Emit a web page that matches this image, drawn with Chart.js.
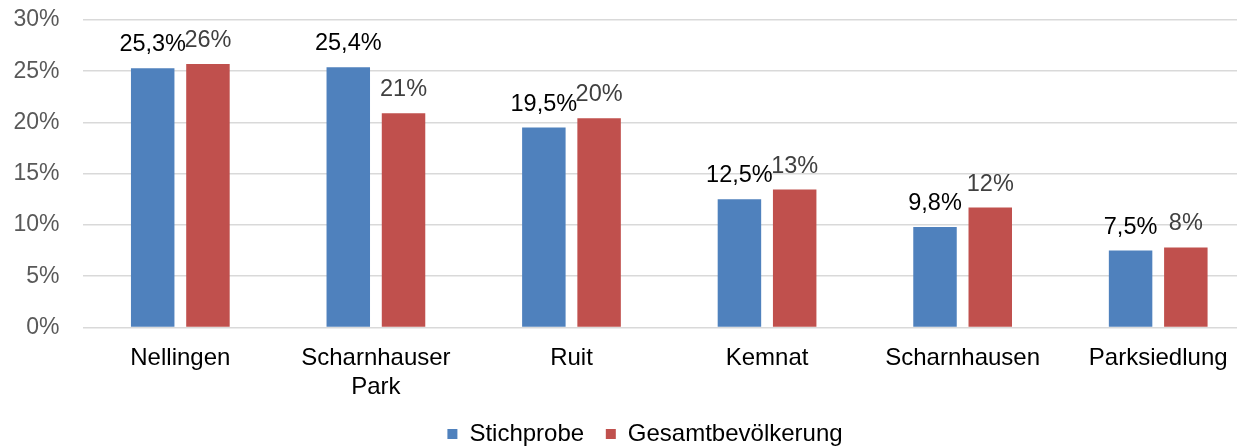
<!DOCTYPE html>
<html>
<head>
<meta charset="utf-8">
<script src="https://cdn.jsdelivr.net/npm/chart.js@4.4.1/dist/chart.umd.min.js"></script>
<style>
    html, body { margin: 0; padding: 0; background: #fff; overflow: hidden; }
    #wrap { position: absolute; left: 0; top: 0; width: 1290px; height: 447px; }
</style>
</head>
<body>
<div id="wrap"><canvas id="chart"></canvas></div>
<script>
// Data
const categories = ['Nellingen', ['Scharnhauser', 'Park'], 'Ruit', 'Kemnat', 'Scharnhausen', 'Parksiedlung'];
const stichprobe = [25.3, 25.4, 19.5, 12.5, 9.8, 7.5];
const gesamt = [25.7, 20.9, 20.4, 13.45, 11.7, 7.8];
const seriesNames = ['Stichprobe', 'Gesamtbevölkerung'];
const yTicks = [0, 5, 10, 15, 20, 25, 30];

const FONT = '"Liberation Sans", Arial, sans-serif';

// Helper: value labels above each bar
const valueLabels = {
    id: 'valueLabels',
    afterDatasetsDraw(chart) {
        const ctx = chart.ctx;
        ctx.save();
        ctx.font = '23.5px ' + FONT;
        ctx.textAlign = 'center';
        ctx.textBaseline = 'alphabetic';
        chart.data.datasets.forEach((ds, i) => {
            const meta = chart.getDatasetMeta(i);
            ctx.fillStyle = ds.labelColor;
            meta.data.forEach((bar, j) => {
                ctx.fillText(ds.fmt(ds.data[j]), bar.x, bar.y - 17);
            });
        });
        ctx.restore();
    }
};

// Helper: centre the legend on the full canvas width
const centerLegend = {
    id: 'centerLegend',
    afterLayout(chart) {
        if (!chart.legend) return;
        chart.legend.left = 0;
        chart.legend.right = chart.width;
        chart.legend.width = chart.width;
    }
};

new Chart(document.getElementById('chart'), {
    type: 'bar',
    data: {
        labels: categories,
        datasets: [{
            label: seriesNames[0],
            data: stichprobe,
            backgroundColor: '#4F81BD',
            labelColor: '#000000',
            fmt: v => v.toFixed(1).replace('.', ',') + '%',
            barPercentage: 0.787,
            categoryPercentage: 0.565
        }, {
            label: seriesNames[1],
            data: gesamt,
            backgroundColor: '#C0504D',
            labelColor: '#404040',
            fmt: v => Math.round(v) + '%',
            barPercentage: 0.787,
            categoryPercentage: 0.565
        }]
    },
    options: {
        responsive: true,
        maintainAspectRatio: false,
        animation: false,
        layout: { padding: { left: -9.5, right: 34, top: 20, bottom: -9 } },
        plugins: {
            legend: {
                position: 'bottom',
                labels: {
                    boxWidth: 10,
                    boxHeight: 10,
                    padding: 3,
                    color: '#000',
                    font: { family: FONT, size: 24 },
                    generateLabels: chart => {
                        const items = Chart.defaults.plugins.legend.labels.generateLabels(chart);
                        items[0].text += '\u2002 '; // extra gap between the two entries
                        return items;
                    }
                }
            },
            tooltip: { enabled: false }
        },
        scales: {
            y: {
                min: 0,
                max: 30,
                afterBuildTicks: axis => { axis.ticks = yTicks.map(v => ({ value: v })); },
                // plot top comes from layout padding only
                afterFit: axis => { axis.paddingTop = 0; },
                grid: { color: '#D9D9D9', lineWidth: 1.5, drawTicks: false },
                border: { display: false },
                ticks: {
                    padding: 23,
                    color: '#595959',
                    font: { family: FONT, size: 23 },
                    callback: v => v + '%'
                }
            },
            x: {
                grid: { display: false, drawTicks: false },
                border: { display: false },
                ticks: {
                    padding: 17,
                    color: '#000',
                    autoSkip: false,
                    maxRotation: 0,
                    font: { family: FONT, size: 24 }
                }
            }
        }
    },
    plugins: [valueLabels, centerLegend]
});
</script>
</body>
</html>
